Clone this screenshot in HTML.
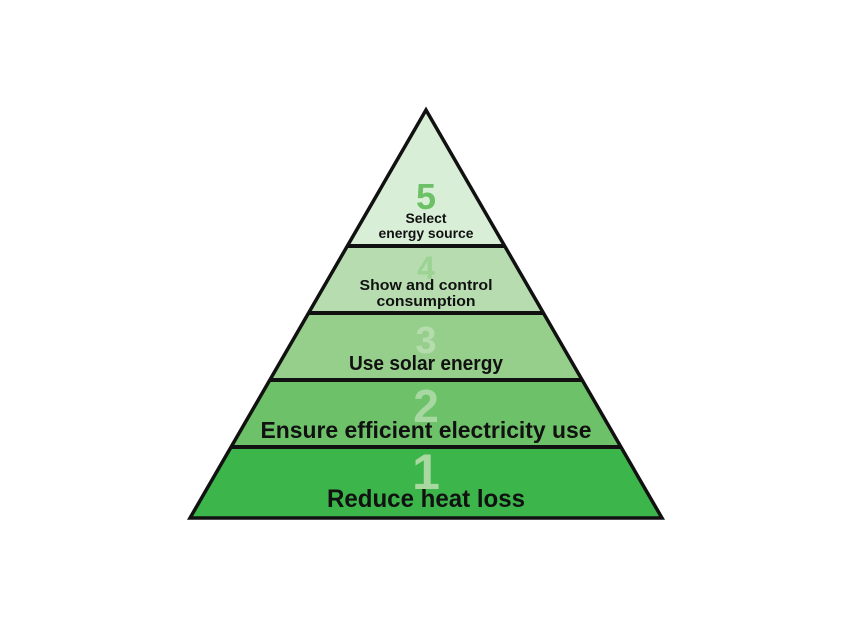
<!DOCTYPE html>
<html><head><meta charset="utf-8"><style>html,body{margin:0;padding:0;background:#fff}svg{display:block}</style></head>
<body>
<svg width="850" height="638" viewBox="0 0 850 638" xmlns="http://www.w3.org/2000/svg" font-family="'Liberation Sans', sans-serif" font-weight="bold" text-anchor="middle">
<defs><clipPath id="tri"><polygon points="426,110 190,518 662,518"/></clipPath></defs>
<g clip-path="url(#tri)">
<rect x="0" y="100" width="850" height="146" fill="#d9eed6"/>
<rect x="0" y="246" width="850" height="67" fill="#b7dcb0"/>
<rect x="0" y="313" width="850" height="67" fill="#95cf8b"/>
<rect x="0" y="380" width="850" height="67" fill="#6dc168"/>
<rect x="0" y="447" width="850" height="80" fill="#3cb54b"/>
<g stroke="#111" stroke-width="4">
<line x1="150" y1="246" x2="700" y2="246"/>
<line x1="150" y1="313" x2="700" y2="313"/>
<line x1="150" y1="380" x2="700" y2="380"/>
<line x1="150" y1="447" x2="700" y2="447"/>
</g>
</g>
<polygon points="426,110 190,518 662,518" fill="none" stroke="#111" stroke-width="3.5" stroke-linejoin="miter"/>
<text x="426" y="209" font-size="36" fill="#6cc066">5</text>
<text x="426" y="279" font-size="32" fill="#9bd392">4</text>
<text x="426" y="353" font-size="38" fill="#b5dcac">3</text>
<text x="426" y="422" font-size="46" fill="#a8d8a1">2</text>
<text x="426" y="489" font-size="50" fill="#a9d9a1">1</text>
<g fill="#111">
<text x="426" y="223" font-size="14" textLength="41" lengthAdjust="spacingAndGlyphs">Select</text>
<text x="426" y="238" font-size="14" textLength="95" lengthAdjust="spacingAndGlyphs">energy source</text>
<text x="426" y="290" font-size="15" textLength="133" lengthAdjust="spacingAndGlyphs">Show and control</text>
<text x="426" y="306" font-size="15" textLength="99" lengthAdjust="spacingAndGlyphs">consumption</text>
<text x="426" y="370" font-size="20" textLength="154" lengthAdjust="spacingAndGlyphs">Use solar energy</text>
<text x="426" y="438" font-size="23" textLength="331" lengthAdjust="spacingAndGlyphs">Ensure efficient electricity use</text>
<text x="426" y="507" font-size="25" textLength="198" lengthAdjust="spacingAndGlyphs">Reduce heat loss</text>
</g>
</svg>
</body></html>
